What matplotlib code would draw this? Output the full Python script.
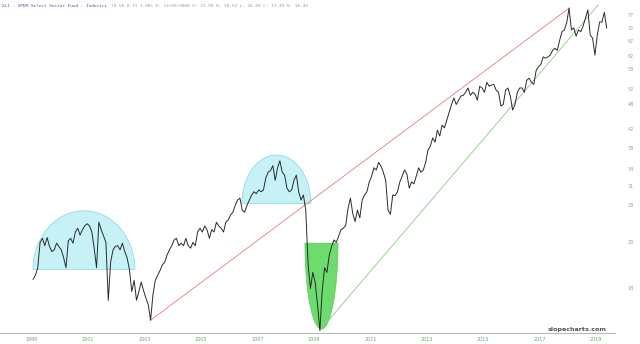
import numpy as np
import matplotlib
matplotlib.use('Agg')
import matplotlib.pyplot as plt
from matplotlib.ticker import FixedLocator, NullLocator

plt.rcParams.update({'font.size': 4, 'font.family': 'DejaVu Sans'})

# monthly closes, Jan 1999 .. May 2019
p1999 = [18.9, 19.3, 20.1, 23.0, 23.5, 22.6, 23.6, 22.5, 21.9, 22.1, 22.9, 22.5]
p2000 = [22.1, 21.2, 20.1, 23.2, 23.5, 22.9, 24.3, 24.8, 23.9, 24.6, 25.1, 25.4]
p2001 = [25.1, 24.3, 22.3, 20.1, 25.6, 24.6, 23.8, 23.0, 16.9, 20.7, 22.1, 22.5]
p2002 = [22.6, 22.1, 22.9, 21.9, 21.2, 19.9, 17.7, 18.8, 16.9, 17.7, 18.6, 17.8]
p2003 = [17.1, 16.5, 15.2, 17.4, 18.8, 19.3, 19.8, 20.4, 20.7, 21.5, 22.1, 22.6]
p2004 = [23.3, 23.5, 22.6, 22.9, 22.6, 23.5, 22.6, 22.3, 23.0, 22.6, 24.3, 24.8]
p2005 = [24.3, 25.1, 24.6, 23.5, 24.6, 24.3, 25.6, 25.1, 24.8, 24.3, 25.6, 25.9]
p2006 = [26.6, 27.0, 28.0, 28.8, 29.1, 27.3, 27.0, 28.0, 28.8, 29.6, 30.1, 29.8]
p2007 = [30.4, 30.1, 30.4, 32.4, 33.4, 33.7, 34.6, 32.0, 34.2, 35.5, 33.4, 32.9]
p2008 = [30.7, 30.1, 30.4, 32.0, 32.9, 30.1, 28.8, 29.6, 27.3, 20.4, 18.0, 19.6]
p2009 = [18.6, 16.5, 14.4, 17.8, 20.1, 19.6, 21.5, 22.5, 23.3, 23.0, 23.8, 24.6]
p2010 = [24.8, 25.2, 27.6, 29.1, 26.8, 25.7, 27.3, 26.2, 28.8, 29.6, 30.1, 31.7]
p2011 = [32.7, 34.2, 33.8, 35.2, 34.5, 33.4, 32.0, 27.3, 26.7, 29.6, 29.5, 30.1]
p2012 = [31.7, 32.7, 33.8, 33.1, 30.7, 31.7, 31.4, 32.7, 34.2, 33.4, 33.8, 35.2]
p2013 = [37.6, 38.4, 40.1, 39.2, 41.8, 40.5, 42.9, 42.3, 44.1, 46.0, 47.9, 49.6]
p2014 = [47.9, 49.0, 50.1, 50.3, 51.1, 52.3, 50.3, 51.1, 50.6, 49.0, 52.8, 52.3]
p2015 = [51.1, 53.9, 52.8, 53.1, 53.3, 51.7, 51.1, 47.5, 47.9, 51.7, 52.3, 50.1]
p2016 = [46.5, 47.9, 51.1, 52.3, 52.3, 51.1, 54.5, 55.1, 53.9, 53.3, 57.4, 58.6]
p2017 = [59.3, 61.7, 61.3, 61.7, 62.3, 63.9, 64.6, 63.9, 67.4, 70.6, 71.2, 74.0]
p2018 = [80.0, 71.2, 72.0, 68.9, 71.2, 70.6, 72.8, 75.9, 79.2, 69.3, 68.2, 62.3]
p2019 = [69.3, 74.3, 74.3, 78.2, 72.0]

prices = (p1999 + p2000 + p2001 + p2002 + p2003 + p2004 + p2005 + p2006 + p2007
          + p2008 + p2009 + p2010 + p2011 + p2012 + p2013 + p2014 + p2015
          + p2016 + p2017 + p2018 + p2019)
years = 1999 + np.arange(len(prices)) / 12 + 1 / 24

tick_years = [1999, 2001, 2003, 2005, 2007, 2009, 2011, 2013, 2015, 2017, 2019]
y_ticks = [77, 72, 67, 62, 58, 52, 48, 42, 38, 34, 31, 28, 23, 18]

# trend lines (x in years, y in price)
red_x, red_y = [2003.21, 2018.04], [15.2, 80.0]
green_x, green_y = [2009.21, 2019.07], [14.4, 81.3]

# shaded shapes: (x left, x right, base price, tip price)
domes = [(1999.04, 2002.65, 19.9, 27.2), (2006.45, 2008.89, 28.3, 36.6)]
bowl = (2008.68, 2009.85, 22.9, 14.5)

fig = plt.figure(figsize=(6.4, 3.44), dpi=100)
ax = fig.add_axes([0, 11 / 344, 615 / 640, 330 / 344])
ax.set_yscale('log')


def half_ellipse(x0, x1, base, tip):
    t = np.linspace(0, np.pi, 100)
    xs = (x0 + x1) / 2 + (x1 - x0) / 2 * np.cos(t)
    ys = base * (tip / base) ** np.sin(t)
    return xs, ys


for d in domes:
    xs, ys = half_ellipse(*d)
    ax.fill(xs, ys, facecolor='#c6f1f6', edgecolor='#8fdbe5', lw=0.6, zorder=1)

xs, ys = half_ellipse(*bowl)
ax.fill(xs, ys, facecolor='#6edb6e', edgecolor='#5cc85c', lw=0.5, zorder=1)

ax.plot(red_x, red_y, color='#e87878', lw=0.6, zorder=2)
ax.plot(green_x, green_y, color='#86cc86', lw=0.6, zorder=2)
ax.plot(years, prices, color='#2a2a2a', lw=0.7, zorder=3)

ax.set_xlim(1997.87, 2019.67)
ax.set_ylim(14.2, 82.2)

ax.set_xticks(tick_years)
ax.set_xticklabels([str(y) for y in tick_years])
ax.yaxis.set_major_locator(FixedLocator(y_ticks))
ax.yaxis.set_minor_locator(NullLocator())
ax.set_yticklabels([str(v) for v in y_ticks])
ax.yaxis.tick_right()
ax.tick_params(axis='x', length=0, pad=3, labelsize=3.5, labelcolor='#6aaa6a')
ax.tick_params(axis='y', which='both', length=0, pad=9, labelsize=3.5,
               labelcolor='#a0a0a0')

for s in ['top', 'left', 'right']:
    ax.spines[s].set_visible(False)
ax.spines['bottom'].set_color('#b8b8b8')
ax.spines['bottom'].set_linewidth(0.8)

fig.text(2 / 640, 1 - 6 / 344, 'XLI - SPDR Select Sector Fund - Industri',
         color='#4a5aa8', fontsize=3.2, va='center', family='DejaVu Sans Mono')
fig.text(111 / 640, 1 - 6 / 344,
         '79.58 0.73 1.00% D: 12/03/2008 O: 27.99 H: 18.54 L: 16.89 C: 17.49 V: 18.49',
         color='#9a9a9a', fontsize=3.2, va='center', family='DejaVu Sans Mono')
fig.text(607 / 640, 1 - 329 / 344, 'slopecharts.com', color='#555555',
         fontsize=4.6, va='center', ha='right', fontweight='bold')

fig.savefig('out.png', dpi=100)
